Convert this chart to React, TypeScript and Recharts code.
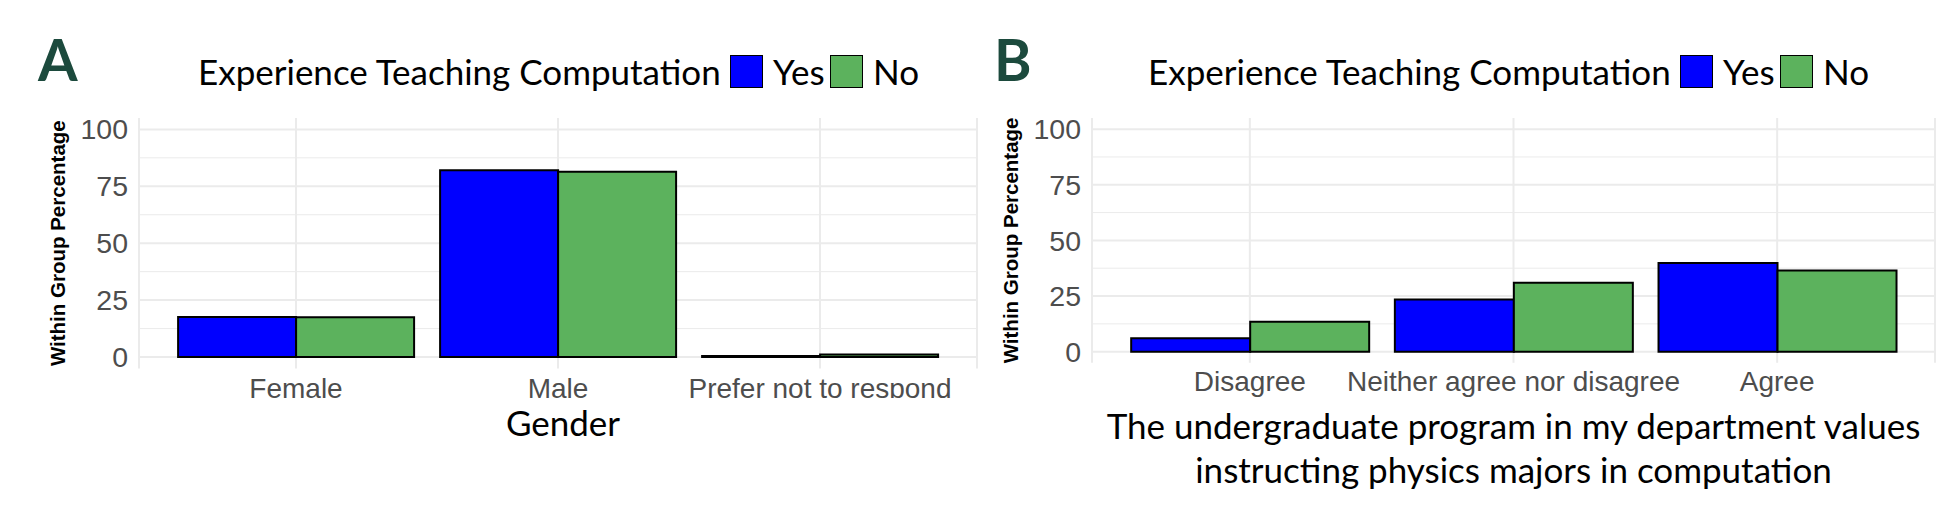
import React from "react";
import {
  BarChart,
  Bar,
  XAxis,
  YAxis,
  CartesianGrid,
  Legend,
  Label,
} from "recharts";

const LEGEND_TITLE = "Experience Teaching Computation";
const SERIES = ["Yes", "No"];

const GENDERS = ["Female", "Male", "Prefer not to respond"];
const GENDER_YES = [17.6, 82.0, 0.4];
const GENDER_NO = [17.5, 81.4, 1.1];

const VALUE_LEVELS = ["Disagree", "Neither agree nor disagree", "Agree"];
const VALUE_YES = [6.0, 23.4, 39.8];
const VALUE_NO = [13.5, 31.0, 36.5];

const MAJOR_TICKS = [0, 25, 50, 75, 100];
const MINOR_TICKS = [12.5, 37.5, 62.5, 87.5];

const TITLE_FONT = "Lato, 'Noto Sans', sans-serif";
const TICK_FONT = "'Liberation Sans', Arial, sans-serif";
const BLUE = "#0000ff";
const GREEN = "#5cb25d";
const GRID = "#ebebeb";

const genderData = GENDERS.map((g, i) => ({
  cat: g,
  Yes: GENDER_YES[i],
  No: GENDER_NO[i],
}));
const valueData = VALUE_LEVELS.map((g, i) => ({
  cat: g,
  Yes: VALUE_YES[i],
  No: VALUE_NO[i],
}));

function LegendContent({ payload }: any) {
  // keep Yes before No, as in the ggplot legend
  const items = [...(payload || [])].sort(
    (a: any, b: any) => SERIES.indexOf(a.value) - SERIES.indexOf(b.value)
  );
  return (
    <div
      style={{
        display: "flex",
        alignItems: "center",
        height: 32,
        fontFamily: TITLE_FONT,
        fontSize: 35,
        lineHeight: "32px",
        color: "#000",
        whiteSpace: "nowrap",
      }}
    >
      <span style={{ display: "inline-block", width: 532 }}>{LEGEND_TITLE}</span>
      {items.map((p: any, i: number) => (
        <span
          key={p.value}
          style={{
            display: "inline-flex",
            alignItems: "center",
            width: i === 0 ? 100 : "auto",
          }}
        >
          <span
            style={{
              display: "inline-block",
              width: 33,
              height: 33,
              background: p.color,
              border: "1.5px solid #000",
              boxSizing: "border-box",
            }}
          />
          <span style={{ marginLeft: 10 }}>{p.value}</span>
        </span>
      ))}
    </div>
  );
}

function yTitle(props: any) {
  const { x, y, width, height } = props.viewBox;
  const cx = x + width - 81;
  const cy = y + height / 2;
  return (
    <text
      x={cx}
      y={cy}
      transform={`rotate(-90 ${cx} ${cy})`}
      textAnchor="middle"
      dominantBaseline="central"
      fontFamily={TICK_FONT}
      fontWeight="bold"
      fontSize={20.5}
      fill="#000"
    >
      Within Group Percentage
    </text>
  );
}

function makeTick(clipId: string | null, clipBottom: number) {
  return (props: any) => {
    const { x, y, payload } = props;
    const id = clipId ? `${clipId}-${payload.index}` : undefined;
    return (
      <g>
        {id && (
          <defs>
            <clipPath id={id} clipPathUnits="userSpaceOnUse">
              <rect x={x - 200} y={0} width={400} height={clipBottom} />
            </clipPath>
          </defs>
        )}
        <text
          x={x}
          y={y}
          dy="0.71em"
          textAnchor="middle"
          fontFamily={TICK_FONT}
          fontSize={28}
          fill="#4d4d4d"
          clipPath={id ? `url(#${id})` : undefined}
        >
          {payload.value}
        </text>
      </g>
    );
  };
}

const yTick = { fontFamily: TICK_FONT, fontSize: 28.5, fill: "#4d4d4d" };

function Tag({ letter, left }: { letter: string; left: number }) {
  return (
    <div
      style={{
        position: "absolute",
        left,
        top: 31,
        fontFamily: TITLE_FONT,
        fontWeight: 700,
        fontSize: 57,
        lineHeight: 1,
        color: "#1c4a3d",
      }}
    >
      {letter}
    </div>
  );
}

function Panel({
  data,
  width,
  axisWidth,
  rightMargin,
  xAxisHeight,
  legendLeft,
  tickMargin,
  tick,
  xLabel,
}: any) {
  return (
    <BarChart
      width={width}
      height={516}
      data={data}
      margin={{ top: 118, right: rightMargin, bottom: 0, left: 0 }}
      barCategoryGap="5%"
      barGap={0}
    >
      <CartesianGrid
        horizontalValues={MINOR_TICKS}
        vertical={false}
        stroke={GRID}
        strokeWidth={1}
      />
      <CartesianGrid
        horizontalValues={MAJOR_TICKS}
        stroke={GRID}
        strokeWidth={2}
      />
      <XAxis
        dataKey="cat"
        type="category"
        height={xAxisHeight}
        padding={{ left: 26, right: 26 }}
        axisLine={false}
        tickLine={false}
        tickSize={0}
        tickMargin={tickMargin}
        tick={tick}
        interval={0}
      >
        <Label content={xLabel} />
      </XAxis>
      <YAxis
        type="number"
        domain={[-5, 105]}
        ticks={MAJOR_TICKS}
        width={axisWidth}
        axisLine={false}
        tickLine={false}
        tickSize={0}
        tickMargin={11}
        tick={yTick}
        allowDataOverflow
      >
        <Label content={yTitle} />
      </YAxis>
      <Legend
        layout="horizontal"
        verticalAlign="middle"
        content={<LegendContent />}
        wrapperStyle={{ left: legendLeft, top: 55, width: 760, height: 33 }}
      />
      {SERIES.map((s) => (
        <Bar
          key={s}
          dataKey={s}
          name={s}
          fill={s === "Yes" ? BLUE : GREEN}
          stroke="#000"
          strokeWidth={2}
          isAnimationActive={false}
        />
      ))}
    </BarChart>
  );
}

function genderLabel(props: any) {
  const { x, y, width } = props.viewBox;
  return (
    <text
      x={x + width / 2 + 5}
      y={y + 67.5}
      textAnchor="middle"
      fontFamily={TITLE_FONT}
      fontSize={35}
      fill="#000"
    >
      Gender
    </text>
  );
}

function valuesLabel(props: any) {
  const { x, y, width } = props.viewBox;
  const cx = x + width / 2;
  return (
    <text
      textAnchor="middle"
      fontFamily={TITLE_FONT}
      fontSize={35}
      fill="#000"
    >
      <tspan x={cx} y={y + 76}>
        The undergraduate program in my department values
      </tspan>
      <tspan x={cx} y={y + 120}>
        instructing physics majors in computation
      </tspan>
    </text>
  );
}

export default function App() {
  return (
    <div
      style={{
        position: "absolute",
        left: 0,
        top: 0,
        width: 1955,
        height: 516,
        background: "#fff",
        overflow: "hidden",
      }}
    >
      <div style={{ position: "absolute", left: 0, top: 0 }}>
        <Panel
          data={genderData}
          width={980}
          axisWidth={139}
          rightMargin={3}
          xAxisHeight={147.6}
          legendLeft={198}
          tickMargin={9.7}
          tick={makeTick("clipA", 398)}
          xLabel={genderLabel}
        />
      </div>
      <div style={{ position: "absolute", left: 980, top: 0 }}>
        <Panel
          data={valueData}
          width={975}
          axisWidth={112}
          rightMargin={20}
          xAxisHeight={153.2}
          legendLeft={168}
          tickMargin={8.3}
          tick={makeTick(null, 0)}
          xLabel={valuesLabel}
        />
      </div>
      <Tag letter="A" left={38} />
      <Tag letter="B" left={994} />
    </div>
  );
}
